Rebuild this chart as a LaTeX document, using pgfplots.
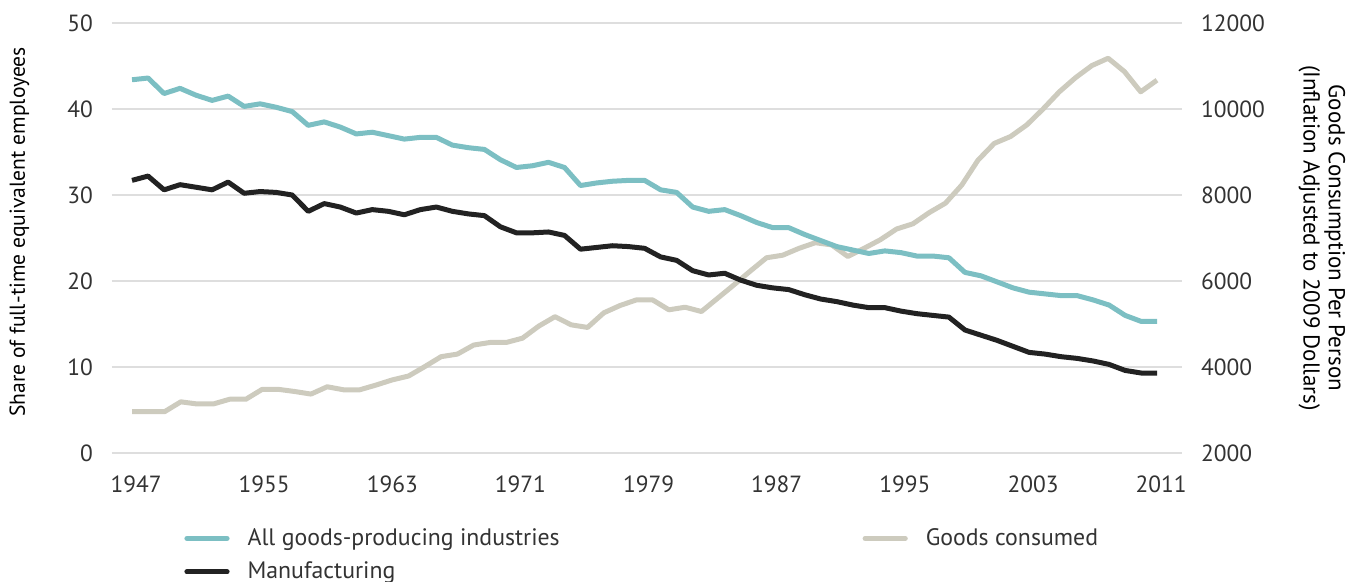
\documentclass[border=0pt]{standalone}
\usepackage{pgfplots}
\usepackage{pgfplotstable}
\pgfplotsset{compat=1.18}
\usepackage{fontspec}
\setmainfont{PT Sans}

\definecolor{tealc}{HTML}{7CBFC3}
\definecolor{darkc}{HTML}{222222}
\definecolor{grayc}{HTML}{CDCBBE}
\definecolor{gridc}{HTML}{DEDEDE}
\definecolor{textc}{HTML}{333333}

% share of full-time equivalent employees (%)
\pgfplotstableread{
year all manu
1947 43.4 31.7
1948 43.6 32.2
1949 41.8 30.6
1950 42.4 31.2
1951 41.6 30.9
1952 41.0 30.6
1953 41.5 31.5
1954 40.3 30.2
1955 40.6 30.4
1956 40.2 30.3
1957 39.7 30.0
1958 38.1 28.1
1959 38.5 29.0
1960 37.9 28.6
1961 37.1 27.9
1962 37.3 28.3
1963 36.9 28.1
1964 36.5 27.7
1965 36.7 28.3
1966 36.7 28.6
1967 35.8 28.1
1968 35.5 27.8
1969 35.3 27.6
1970 34.1 26.3
1971 33.2 25.6
1972 33.4 25.6
1973 33.8 25.7
1974 33.2 25.3
1975 31.1 23.7
1976 31.4 23.9
1977 31.6 24.1
1978 31.7 24.0
1979 31.7 23.8
1980 30.6 22.8
1981 30.3 22.4
1982 28.6 21.2
1983 28.1 20.7
1984 28.3 20.9
1985 27.6 20.1
1986 26.8 19.5
1987 26.2 19.2
1988 26.2 19.0
1989 25.4 18.4
1990 24.7 17.9
1991 24.0 17.6
1992 23.6 17.2
1993 23.2 16.9
1994 23.5 16.9
1995 23.3 16.5
1996 22.9 16.2
1997 22.9 16.0
1998 22.7 15.8
1999 21.0 14.3
2000 20.6 13.7
2001 19.9 13.1
2002 19.2 12.4
2003 18.7 11.7
2004 18.5 11.5
2005 18.3 11.2
2006 18.3 11.0
2007 17.8 10.7
2008 17.2 10.3
2009 16.0 9.6
2010 15.3 9.3
2011 15.3 9.3
}\empdata

% goods consumption per person (2009 dollars)
\pgfplotstableread{
year cons
1947 2960
1948 2960
1949 2960
1950 3190
1951 3140
1952 3140
1953 3250
1954 3250
1955 3480
1956 3480
1957 3430
1958 3370
1959 3540
1960 3470
1961 3470
1962 3580
1963 3700
1964 3790
1965 4010
1966 4240
1967 4300
1968 4510
1969 4570
1970 4570
1971 4670
1972 4950
1973 5170
1974 4980
1975 4920
1976 5260
1977 5430
1978 5560
1979 5560
1980 5330
1981 5390
1982 5290
1983 5600
1984 5910
1985 6230
1986 6540
1987 6600
1988 6760
1989 6890
1990 6840
1991 6570
1992 6760
1993 6960
1994 7210
1995 7330
1996 7590
1997 7810
1998 8230
1999 8810
2000 9200
2001 9360
2002 9630
2003 10000
2004 10400
2005 10730
2006 11010
2007 11180
2008 10870
2009 10400
2010 10670
}\consdata

\pgfplotsset{
  base/.style={
    scale only axis, width=535pt, height=215pt,
    at={(0,0)}, anchor=south west,
    axis line style={draw=none},
    major tick length=0pt,
    font=\fontsize{11.7pt}{14pt}\selectfont,
    tick label style={text=textc, /pgf/number format/assume math mode=true},
    label style={text=textc},
    scaled ticks=false,
    /pgf/number format/1000 sep={},
  },
  serie/.style={line width=2.5pt, line join=round, no markers},
}

\begin{document}
\begin{tikzpicture}[x=1pt,y=1pt]
% right axis first, so the consumption line sits under the others
\begin{axis}[base,
    xmin=1945.77, xmax=2011.54, xtick=\empty,
    ymin=2000, ymax=12000, ytick={2000,4000,...,12000},
    axis y line*=right, axis x line=none,
    yticklabel style={xshift=6pt},
    ymajorgrids, grid style={gridc, line width=0.8pt},
    ylabel={Goods Consumption Per Person\\(Inflation Adjusted to 2009 Dollars)},
    every axis y label/.style={at={(axis description cs:1.1308,0.5)},
      rotate=-90, anchor=center, align=center,
      font=\fontsize{11.5pt}{12.6pt}\selectfont},
  ]
  \addplot[serie, grayc] table[x=year, y=cons] {\consdata};
\end{axis}

\begin{axis}[base,
    xmin=1945.75, xmax=2012.55, xtick={1947,1955,...,2011},
    ymin=0, ymax=50, ytick={0,10,...,50},
    axis y line*=left, axis x line*=bottom,
    xticklabel style={yshift=-7.8pt, xshift=2pt},
    yticklabel style={xshift=-6pt},
    ylabel={Share of full-time equivalent employees},
    every axis y label/.style={at={(axis description cs:-0.0865,0.514)},
      rotate=90, anchor=center, font=\fontsize{10.8pt}{13pt}\selectfont},
    legend columns=2,
    legend cell align=left,
    legend image code/.code={\draw[#1, line cap=round] (1.2pt,0pt) -- (21.3pt,0pt);},
    legend style={draw=none, fill=none, text=textc,
      font=\fontsize{11.9pt}{14pt}\selectfont,
      at={(axis description cs:0,0)}, anchor=north west,
      xshift=33pt, yshift=-33.5pt, row sep=2.8pt,
      /tikz/every odd column/.append style={column sep=7pt},
      /tikz/every even column/.append style={column sep=9pt}},
  ]
  \addplot[serie, tealc] table[x=year, y=all] {\empdata};
  \addlegendentry{\makebox[296.5pt][l]{All goods-producing industries}}
  \addlegendimage{serie, grayc}
  \addlegendentry{Goods consumed}
  \addplot[serie, darkc] table[x=year, y=manu] {\empdata};
  \addlegendentry{Manufacturing}
\end{axis}

\pgfresetboundingbox
\path[use as bounding box] (-56,-64.5) rectangle (624.5,226.5);
\end{tikzpicture}
\end{document}
